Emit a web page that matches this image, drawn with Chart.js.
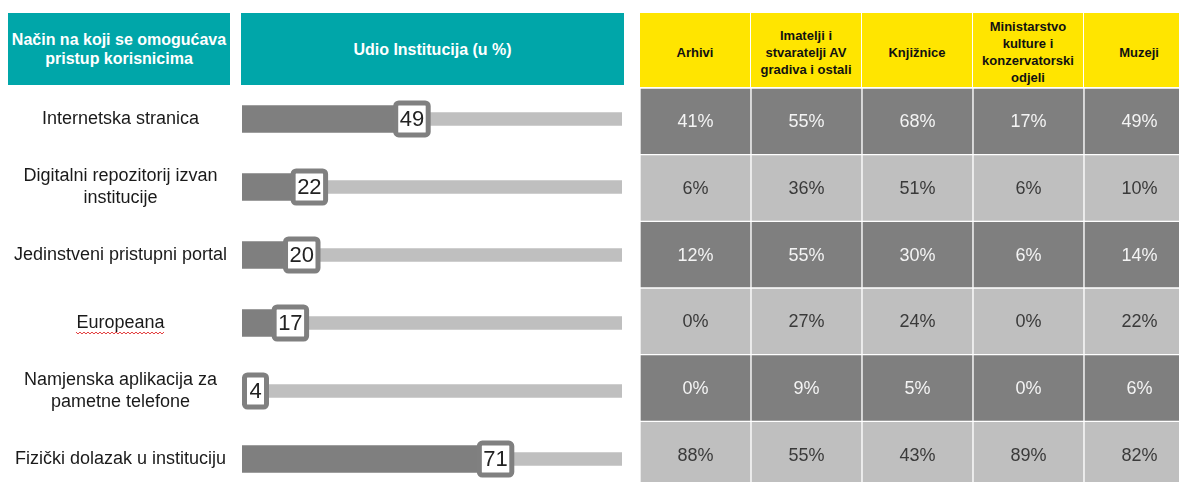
<!DOCTYPE html>
<html>
<head>
<meta charset="utf-8">
<script src="https://cdn.jsdelivr.net/npm/chart.js"></script>
<style>
  body { margin: 0; width: 1179px; height: 482px; overflow: hidden; background: #fff; position: relative;
         font-family: Arial, "Liberation Sans", sans-serif; }
  .hdr { position: absolute; display: flex; align-items: center; justify-content: center; text-align: center;
         font-weight: bold; box-sizing: border-box; }
  .teal { background: #00a6a9; color: #fff; font-size: 16px; line-height: 19px; top: 13px; height: 72px; }
  .yel { background: #ffe500; color: #111; font-size: 13px; line-height: 17px; top: 13px; height: 74px; width: 110px;
         padding-top: 4px; }
  canvas { position: absolute; }
</style>
</head>
<body>
<div class="hdr teal" style="left:8px;width:222px;">Način na koji se omogućava<br>pristup korisnicima</div>
<div class="hdr teal" style="left:241px;width:383px;">Udio Institucija (u %)</div>
<div id="yellowHead"></div>
<canvas id="bars" width="630" height="444" style="left:0;top:67px;"></canvas>
<canvas id="grid" width="555" height="400" style="left:640px;top:88px;"></canvas>
<script>
// ways institutions give users access
const methods = [
  'Internetska stranica',
  ['Digitalni repozitorij izvan', 'institucije'],
  'Jedinstveni pristupni portal',
  'Europeana',
  ['Namjenska aplikacija za', 'pametne telefone'],
  'Fizički dolazak u instituciju'
];
const shares = [49, 22, 20, 17, 4, 71];
const scaleMax = 100;

// breakdown per institution type (%)
const institutions = [
  ['Arhivi'],
  ['Imatelji i', 'stvaratelji AV', 'gradiva i ostali'],
  ['Knjižnice'],
  ['Ministarstvo', 'kulture i', 'konzervatorski', 'odjeli'],
  ['Muzeji']
];
const arhivi = [41, 6, 12, 0, 0, 88];
const avGradivo = [55, 36, 55, 27, 9, 55];
const knjiznice = [68, 51, 30, 24, 5, 43];
const ministarstvo = [17, 6, 6, 0, 0, 89];
const muzeji = [49, 10, 14, 22, 6, 82];
const tableCols = [arhivi, avGradivo, knjiznice, ministarstvo, muzeji];

const DARK = '#7f7f7f', LIGHT = '#bfbfbf';

// yellow column heads
var head = '';
institutions.forEach((lines, i) => {
  head += '<div class="hdr yel" style="left:' + (640 + i * 111) + 'px">' + lines.join('<br>') + '</div>';
});
document.getElementById('yellowHead').innerHTML = head;

// white box with the value at the end of every bar
const valueBoxes = {
  id: 'valueBoxes',
  afterDatasetsDraw(chart) {
    const ctx = chart.ctx;
    const meta = chart.getDatasetMeta(1);
    ctx.save();
    ctx.font = '22px Arial, "Liberation Sans"';
    meta.data.forEach((bar, i) => {
      const txt = String(shares[i]);
      const w = Math.max(ctx.measureText(txt).width + 8, 22);
      const h = 32;
      const right = Math.max(bar.x, chart.chartArea.left + w + 2.5);
      const x = right - w;
      const y = bar.y - h / 2;
      ctx.beginPath();
      ctx.roundRect(x, y, w, h, 3);
      ctx.fillStyle = '#fff';
      ctx.fill();
      ctx.lineWidth = 5;
      ctx.strokeStyle = '#808080';
      ctx.stroke();
      ctx.fillStyle = '#222';
      ctx.textAlign = 'center';
      ctx.textBaseline = 'middle';
      ctx.fillText(txt, x + w / 2, bar.y + 1);
    });
    ctx.restore();
  },
  afterDraw(chart) {
    // red squiggle under "Europeana"
    const ctx = chart.ctx;
    const ys = chart.scales.y;
    const idx = methods.indexOf('Europeana');
    ctx.save();
    ctx.font = '18px Arial, "Liberation Sans"';
    const tw = ctx.measureText('Europeana').width;
    const cx = 120;
    const y0 = ys.getPixelForTick(idx) + 10;
    ctx.beginPath();
    for (let x = cx - tw / 2, k = 0; x <= cx + tw / 2; x += 2, k++) {
      const yy = y0 + (k % 2 ? 1 : -1);
      if (k === 0) ctx.moveTo(x, yy); else ctx.lineTo(x, yy);
    }
    ctx.strokeStyle = '#e23b3b';
    ctx.lineWidth = 1;
    ctx.stroke();
    ctx.restore();
  }
};

new Chart(document.getElementById('bars'), {
  type: 'bar',
  data: {
    labels: methods,
    datasets: [
      { data: methods.map(() => scaleMax), backgroundColor: LIGHT, barThickness: 13, grouped: false, order: 2 },
      { data: shares, backgroundColor: DARK, barThickness: 27, grouped: false, order: 1 }
    ]
  },
  options: {
    indexAxis: 'y',
    responsive: false,
    animation: false,
    layout: { padding: { left: 0, right: 8, top: 0, bottom: 0 } },
    plugins: { legend: { display: false }, tooltip: { enabled: false } },
    scales: {
      x: { min: 0, max: scaleMax, display: false },
      y: {
        grid: { display: false },
        border: { display: false },
        afterFit(scale) { scale.width = 242; },
        ticks: {
          padding: 7,
          crossAlign: 'center',
          color: '#1a1a1a',
          font: { family: 'Arial, "Liberation Sans"', size: 18, lineHeight: 1.22 }
        }
      }
    }
  },
  plugins: [valueBoxes]
});

// percentage written in each table cell
const cellText = {
  id: 'cellText',
  afterDatasetsDraw(chart) {
    const ctx = chart.ctx;
    ctx.save();
    ctx.font = '18px Arial, "Liberation Sans"';
    ctx.textAlign = 'center';
    ctx.textBaseline = 'middle';
    chart.data.datasets.forEach((ds, r) => {
      ctx.fillStyle = r % 2 ? '#3a3a3a' : '#f4f4f4';
      chart.getDatasetMeta(r).data.forEach((cell, c) => {
        ctx.fillText(ds.pct[c] + '%', cell.x, (cell.y + cell.base) / 2 + 1);
      });
    });
    ctx.restore();
  }
};

new Chart(document.getElementById('grid'), {
  type: 'bar',
  data: {
    labels: institutions.map(l => l.join(' ')),
    datasets: methods.map((m, r) => ({
      data: tableCols.map(() => [r, r + 1]),
      pct: tableCols.map(col => col[r]),
      backgroundColor: r % 2 ? LIGHT : DARK,
      borderColor: '#fff',
      borderWidth: 1,
      borderSkipped: false,
      grouped: false,
      categoryPercentage: 1,
      barPercentage: 1
    }))
  },
  options: {
    responsive: false,
    animation: false,
    plugins: { legend: { display: false }, tooltip: { enabled: false } },
    scales: {
      x: { display: false },
      y: { display: false, min: 0, max: methods.length, reverse: true }
    }
  },
  plugins: [cellText]
});
</script>
</body>
</html>
